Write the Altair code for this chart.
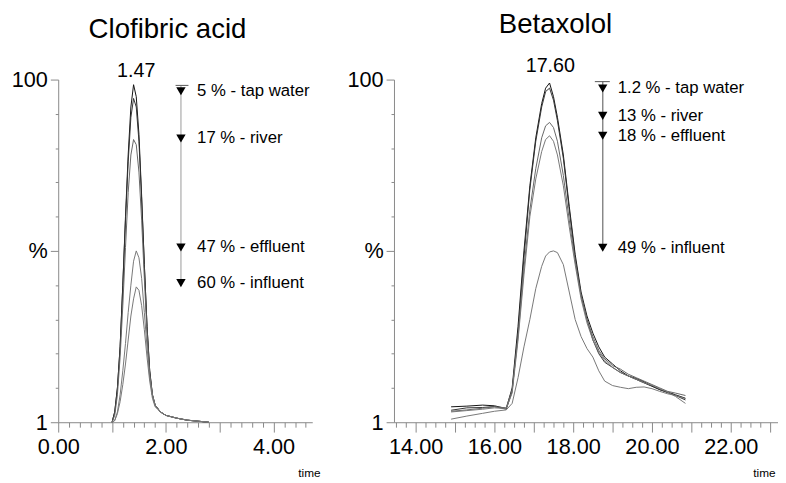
import altair as alt
import pandas as pd

FONT = "Liberation Sans"

# ---------------- Clofibric acid (left) ----------------
left_time = [1.00, 1.05, 1.10, 1.15, 1.20, 1.25, 1.30, 1.35, 1.40, 1.45, 1.50, 1.55,
             1.60, 1.65, 1.70, 1.75, 1.80, 1.90, 2.00, 2.20, 2.40, 2.60, 2.80]
left_reference = [0, 3, 10, 22, 40, 60, 78, 92, 98.5, 95, 84, 66, 46, 28, 15, 8, 5, 3, 2, 1.2, 0.6, 0.3, 0]
left_tap = [0, 3, 10, 22, 40, 59, 76, 89, 94.5, 92, 82, 65, 46, 28, 15, 8, 5, 3, 2, 1.2, 0.6, 0.3, 0]
left_river = [0, 2, 8, 19, 34, 51, 67, 78, 82.5, 81, 73, 59, 42, 26, 14, 8, 5, 3, 2, 1.2, 0.6, 0.3, 0]
left_effluent = [0, 0.5, 3, 8, 15, 23, 32, 40, 47, 50, 48, 42, 32, 22, 13, 8, 5, 3, 2, 1.2, 0.6, 0.3, 0]
left_influent = [0, 0.5, 2.5, 6, 11, 17, 24, 31, 36, 39.5, 38.5, 34, 27, 19, 12, 7, 4.5, 3, 2, 1.2, 0.6, 0.3, 0]

left_labels = ["5 % - tap water", "17 % - river", "47 % - effluent", "60 % - influent"]
left_levels = [96.6, 82.8, 51.0, 40.6]
left_top_level = 98.3
left_peak_label = "1.47"
left_peak_pos = [1.45, 102.6]
left_marker_x = 2.28
left_text_x = 2.58
left_bar = [2.18, 2.42]

# ---------------- Betaxolol (right) ----------------
right_time = [14.9, 15.3, 15.7, 16.0, 16.3, 16.45, 16.6, 16.75, 16.9, 17.05, 17.2, 17.3, 17.4,
              17.5, 17.6, 17.75, 17.9, 18.05, 18.2, 18.35, 18.5, 18.65, 18.8, 19.0, 19.2,
              19.4, 19.6, 19.8, 20.0, 20.2, 20.4, 20.6, 20.85]
right_reference = [4.5, 4.7, 5.0, 4.8, 4.0, 10, 28, 50, 69, 83, 93, 97.5, 99, 95, 89, 78, 63, 49,
                   38, 31, 26, 22, 19, 17, 15, 13.5, 12.5, 11.5, 10.5, 9.5, 8.8, 8, 7]
right_tap = [3.5, 4.2, 4.3, 4.6, 3.8, 9, 26, 48, 68, 82, 92, 96.5, 97.5, 94, 88, 77, 62, 48,
             37, 30, 24, 20, 17.5, 16, 14.5, 13.5, 12.8, 11.8, 10.6, 9.5, 8.6, 7.8, 6.5]
right_river = [3.2, 3.6, 4.1, 4.5, 4.2, 9.5, 25, 45, 62, 74, 83, 86.5, 87.5, 86, 82, 72, 59, 47,
               37, 30, 25, 21, 18.5, 16.5, 15.5, 14, 13, 12, 11, 10, 9, 8.5, 7.8]
right_effluent = [3.0, 3.4, 3.8, 4.2, 4.0, 8.5, 24, 43, 60, 71, 79, 82.5, 83.6, 82, 78, 69, 57, 46,
                  36, 29, 24, 20.5, 18, 16, 14.5, 13.5, 12.5, 11.5, 10.8, 9.8, 8.8, 7.5, 5.5]
right_influent = [0.9, 1.8, 2.6, 3.2, 3.6, 5.5, 13, 22, 30, 39, 45.5, 48.5, 49.7, 50, 49.5, 46, 38, 30,
                  25, 21.5, 19, 15, 12, 10.7, 10.2, 9.8, 10.2, 10.3, 9.8, 9, 8.3, 7.8, 6.9]

right_labels = ["1.2 % - tap water", "13 % - river", "18 % - effluent", "49 % - influent"]
right_levels = [97.4, 89.4, 83.6, 50.9]
right_top_level = 99.4
right_peak_label = "17.60"
right_peak_pos = [17.42, 104.0]
right_marker_x = 18.75
right_text_x = 19.13
right_bar = [18.55, 18.93]

series_names = ["reference", "tap water", "river", "effluent", "influent"]


def long_df(times, curves):
    rows = []
    for name, vals in zip(series_names, curves):
        for t, v in zip(times, vals):
            rows.append({"time": t, "value": v, "series": name})
    return pd.DataFrame(rows)


def panel(title, title_dx, times, curves, colors, domain, width, tick_vals,
          labels, levels, top_level, marker_x, text_x, bar, peak_label, peak_pos,
          line_color, time_x):
    xscale = alt.Scale(domain=domain, nice=False, zero=False)
    yscale = alt.Scale(domain=[0, 100], nice=False, zero=False)
    xaxis = alt.Axis(
        values=tick_vals,
        labelExpr="datum.value % 2 === 0 ? format(datum.value, '.2f') : ''",
        tickSize={"condition": {"test": "datum.value % 1 === 0", "value": 10}, "value": 5},
        grid=False, labelFontSize=22, labelFont=FONT, labelColor="black", labelPadding=5,
        labelFlush=False, labelOverlap=False, labelBound=False,
        domainColor="#888", tickColor="#888",
        title="time", titleFont=FONT, titleFontSize=12, titleFontWeight="normal",
        titleAlign="right", titleAnchor="end", titleX=time_x, titleY=51,
        titleBaseline="middle", titleColor="black",
    )
    yaxis = alt.Axis(
        values=[0, 10, 20, 30, 40, 50, 60, 70, 80, 90, 100],
        labelExpr="datum.value === 100 ? '100' : datum.value === 50 ? '%' : datum.value === 0 ? '1' : ''",
        tickSize={"condition": {"test": "datum.value % 50 === 0", "value": 8}, "value": 3},
        grid=False, labelFontSize=22, labelFont=FONT, labelColor="black", labelPadding=3,
        labelFlush=False, labelOverlap=False, labelBound=False,
        domainColor="#888", tickColor="#888", title=None,
    )

    def X(f):
        return alt.X(f, type="quantitative", scale=xscale, axis=xaxis)

    def Y(f):
        return alt.Y(f, type="quantitative", scale=yscale, axis=yaxis)

    df = long_df(times, curves)
    lines = alt.Chart(df).mark_line(strokeWidth=1, clip=False).encode(
        x=X("time"),
        y=Y("value"),
        color=alt.Color("series:N", scale=alt.Scale(domain=series_names, range=colors), legend=None),
        detail="series:N",
    )
    ann = pd.DataFrame({"level": levels, "label": labels,
                        "mx": [marker_x] * len(levels), "tx": [text_x] * len(levels)})
    vline_df = pd.DataFrame({"x": [marker_x], "y1": [top_level], "y2": [levels[-1]]})
    bar_df = pd.DataFrame({"x1": [bar[0]], "x2": [bar[1]], "y": [top_level]})
    peak_df = pd.DataFrame({"x": [peak_pos[0]], "y": [peak_pos[1]], "t": [peak_label]})

    vline = alt.Chart(vline_df).mark_rule(color=line_color, strokeWidth=1.5).encode(
        x=X("x"), y=Y("y1"), y2="y2:Q")
    topbar = alt.Chart(bar_df).mark_rule(color="#555", strokeWidth=1).encode(
        x=X("x1"), x2="x2:Q", y=Y("y"))
    tri = alt.Chart(ann).mark_point(shape="triangle-down", filled=True, color="black",
                                    opacity=1, size=90).encode(x=X("mx"), y=Y("level"))
    txt = alt.Chart(ann).mark_text(align="left", baseline="middle", fontSize=17, font=FONT,
                                   color="black").encode(x=X("tx"), y=Y("level"), text="label:N")
    peak = alt.Chart(peak_df).mark_text(align="center", baseline="middle", fontSize=20,
                                        font=FONT, color="black").encode(
        x=X("x"), y=Y("y"), text="t:N")
    return alt.layer(lines, vline, topbar, tri, txt, peak).properties(
        width=width, height=348,
        title=alt.TitleParams(title, fontSize=28, font=FONT, fontWeight="normal",
                              anchor="middle", dx=title_dx, color="black", offset=17),
    )


left_ticks = [round(i * 0.2, 1) for i in range(24)]
right_ticks = [round(13.5 + i * 0.25, 2) for i in range(39)]

left = panel("Clofibric acid", -18, left_time,
             [left_reference, left_tap, left_river, left_effluent, left_influent],
             ["#111", "#333", "#666", "#777", "#777"], [0, 4.72], 258, left_ticks,
             left_labels, left_levels, left_top_level, left_marker_x, left_text_x, left_bar,
             left_peak_label, left_peak_pos, "#bbb", 266)
right = panel("Betaxolol", -31, right_time,
              [right_reference, right_tap, right_river, right_effluent, right_influent],
              ["#222", "#333", "#444", "#444", "#444"], [13.45, 23.2], 390, right_ticks,
              right_labels, right_levels, right_top_level, right_marker_x, right_text_x, right_bar,
              right_peak_label, right_peak_pos, "#888", 387)

chart = alt.hconcat(left, right, spacing=27).properties(
    padding={"left": 3, "top": 0, "right": 0, "bottom": 0},
    background="white",
).configure_view(stroke=None)

chart.save("out.html", embed_options={"renderer": "svg", "actions": False})
